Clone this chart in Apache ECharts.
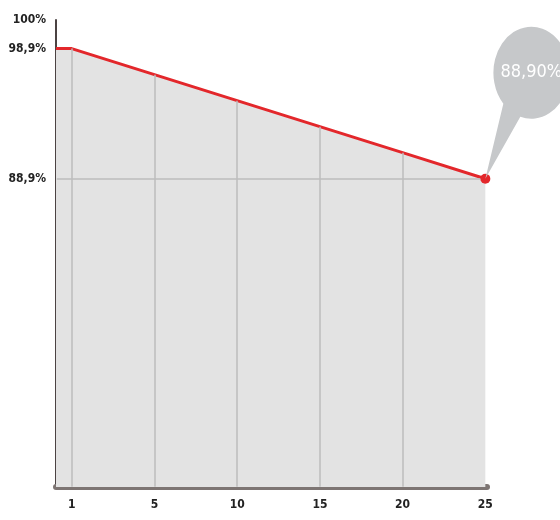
<!DOCTYPE html>
<html>
<head>
<meta charset="utf-8">
<script src="https://cdn.jsdelivr.net/npm/echarts@6/dist/echarts.min.js"></script>
<style>
  html, body { margin: 0; padding: 0; background: #fff; }
  #chart { width: 560px; height: 520px; }
</style>
</head>
<body>
<div id="chart"></div>
<script>
// x categories (years) and the values on each
var xLabels = ['1', '5', '10', '15', '20', '25'];
var values = [98.9, 96.9, 94.9, 92.9, 90.9, 88.9];
// y tick labels
var yTickValues = [88.9, 98.9, 101.1];
var yTickLabels = ['88,9%', '98,9%', '100%'];
// horizontal guide
var guideValue = 88.9;

var xMin = -0.19, xMax = 5.02;
var yMin = 65.2, yMax = 101.1;

// line starts flat at the y axis, then one point per category
var lineData = [[xMin, values[0]]];
for (var i = 0; i < values.length; i++) {
    var item = { value: [i, values[i]] };
    if (i === values.length - 1) {
        item.symbol = 'circle';
        item.symbolSize = 10;
    }
    lineData.push(item);
}
var lastIdx = values.length - 1;

// vertical guides run from the bottom up to the line only
// (nudged off the axis edge, markLine drops points sitting on it)
var guides = [];
for (var j = 0; j < lastIdx; j++) {
    guides.push([{ coord: [j, yMin + 0.01] }, { coord: [j, values[j]] }]);
}
// stop short of the end dot so the dot stays on top
guides.push([{ coord: [xMin + 0.01, guideValue] }, { coord: [lastIdx - 0.06, guideValue] }]);

var labelFont = 'DejaVu Sans Condensed';

var chart = echarts.init(document.getElementById('chart'));
var option = {
    animation: false,
    grid: { left: 56, right: 73, top: 20, bottom: 33 },
    xAxis: {
        type: 'value',
        min: xMin,
        max: xMax,
        axisLine: { show: true, onZero: false, lineStyle: { color: '#7d7573', width: 6 } },
        axisTick: { show: false },
        axisLabel: {
            customValues: [0, 1, 2, 3, 4, 5],
            formatter: function (v) { return xLabels[Math.round(v)]; },
            margin: 12,
            color: '#222',
            fontFamily: labelFont,
            fontWeight: 'bold',
            fontSize: 12
        },
        splitLine: { show: false }
    },
    yAxis: {
        type: 'value',
        min: yMin,
        max: yMax,
        axisLine: { show: true, onZero: false, lineStyle: { color: '#4b4343', width: 2 } },
        axisTick: { show: false },
        axisLabel: {
            customValues: yTickValues,
            formatter: function (v) {
                return yTickLabels[yTickValues.indexOf(v)];
            },
            margin: 10,
            color: '#222',
            fontFamily: labelFont,
            fontWeight: 'bold',
            fontSize: 12
        },
        splitLine: { show: false }
    },
    series: [
        {
            type: 'line',
            data: lineData,
            showSymbol: true,
            symbol: 'none',
            itemStyle: { color: '#e3272b' },
            lineStyle: { color: '#e3272b', width: 3 },
            areaStyle: { color: '#e3e3e3', opacity: 1, origin: 'start' },
            z: 3,
            markLine: {
                silent: true,
                symbol: ['none', 'none'],
                label: { show: false },
                lineStyle: { color: '#bdbdbd', width: 1.5, type: 'solid' },
                data: guides,
                z: 5
            },
            markPoint: {
                silent: true,
                data: [{
                    coord: [lastIdx, values[lastIdx]],
                    value: values[lastIdx]
                }],
                symbol: 'path://M0 152 L35 90 A38 46 0 1 0 18 77 Z',
                symbolSize: [84, 152],
                symbolOffset: [42, -76],
                itemStyle: { color: '#c6c8ca' },
                label: {
                    show: true,
                    position: 'inside',
                    offset: [4, -30],
                    formatter: function (p) {
                        return p.value.toFixed(2).replace('.', ',') + '%';
                    },
                    color: '#fff',
                    fontFamily: labelFont,
                    fontSize: 18
                },
                z: 6
            }
        }
    ]
};
chart.setOption(option);
</script>
</body>
</html>
